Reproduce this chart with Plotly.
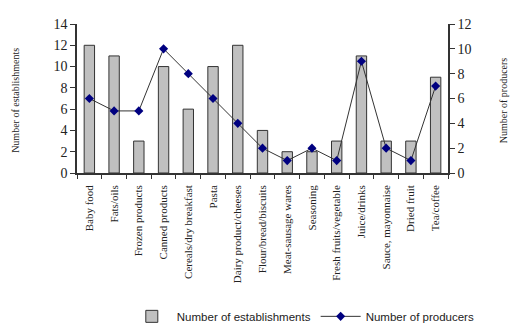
import plotly.graph_objects as go

categories = ["Baby food", "Fats/oils", "Frozen products", "Canned products",
              "Cereals/dry breakfast", "Pasta", "Dairy product/cheeses",
              "Flour/bread/biscuits", "Meat-sausage wares", "Seasoning",
              "Fresh fruits/vegetable", "Juice/drinks", "Sauce, mayonnaise",
              "Dried fruit", "Tea/coffee"]
establishments = [12, 11, 3, 10, 6, 10, 12, 4, 2, 2, 3, 11, 3, 3, 9]
producers = [6, 5, 5, 10, 8, 6, 4, 2, 1, 2, 1, 9, 2, 1, 7]
left_ticks = [0, 2, 4, 6, 8, 10, 12, 14]
right_ticks = [0, 2, 4, 6, 8, 10, 12]

serif = "Liberation Serif"
fig = go.Figure()
fig.add_trace(go.Bar(
    x=categories, y=establishments, name="Number of establishments",
    marker=dict(color="#c0c0c0", line=dict(color="#333333", width=1)),
    width=0.42, yaxis="y"))
fig.add_trace(go.Scatter(
    x=categories, y=producers, name="Number of producers", mode="lines+markers",
    line=dict(color="#333333", width=1),
    marker=dict(symbol="diamond", size=7, color="#000080"),
    yaxis="y2"))

fig.update_layout(
    width=523, height=333,
    margin=dict(l=77, r=75, t=24, b=160),
    plot_bgcolor="white", paper_bgcolor="white",
    showlegend=True,
    legend=dict(orientation="h", x=0.61, xanchor="center",
                yref="container", y=0.05, yanchor="middle",
                font=dict(family="Liberation Sans", size=11.5, color="#222"),
                itemwidth=40, tracegroupgap=0),
    xaxis=dict(type="category", range=[-0.5, 14.5], tickangle=-90, tickson="boundaries",
               ticks="outside", ticklen=4, tickcolor="#333", automargin=False,
               showline=True, linecolor="#333", linewidth=1.5,
               ticklabelstandoff=6,
               tickfont=dict(family=serif, size=11, color="#222"),
               showgrid=False),
    yaxis=dict(range=[0, 14], tickvals=left_ticks, ticks="outside", ticklen=5,
               tickcolor="#333", showline=True, linecolor="#333", linewidth=1.5,
               showgrid=False, zeroline=False, automargin=False,
               tickfont=dict(family=serif, size=14, color="#222")),
    yaxis2=dict(range=[0, 12], tickvals=right_ticks, overlaying="y", side="right",
                ticks="outside", ticklen=5, tickcolor="#333", showline=True,
                linecolor="#333", linewidth=1.5, showgrid=False, zeroline=False,
                automargin=False,
                tickfont=dict(family=serif, size=14, color="#222")),
    annotations=[
        dict(text="Number of establishments", xref="paper", yref="paper",
             x=-0.185, y=0.49, textangle=-90, showarrow=False,
             font=dict(family=serif, size=10, color="#222")),
        dict(text="Number of producers", xref="paper", yref="paper",
             x=1.172, y=0.49, textangle=-90, showarrow=False,
             font=dict(family=serif, size=10, color="#222")),
    ],
)
fig.write_html("out.html")
